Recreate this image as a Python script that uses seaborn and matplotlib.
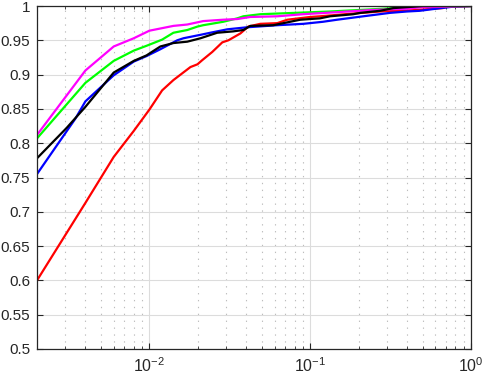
import numpy as np
import pandas as pd
import matplotlib
matplotlib.use("Agg")
import matplotlib.pyplot as plt
import seaborn as sns
from matplotlib.ticker import LogLocator, FixedLocator, NullFormatter

red_x = [0.002, 0.004, 0.006, 0.008, 0.010, 0.012, 0.0141, 0.018, 0.0199, 0.0213, 0.0246, 0.0284,
         0.031, 0.0368, 0.0412, 0.0489, 0.0624, 0.072, 0.1, 0.115, 0.185, 0.272, 0.36, 0.44, 0.67, 0.71, 1.0]
red_y = [0.600, 0.713, 0.780, 0.818, 0.849, 0.877, 0.892, 0.911, 0.915, 0.921, 0.933, 0.947,
         0.950, 0.960, 0.970, 0.974, 0.975, 0.980, 0.984, 0.985, 0.989, 0.992, 0.993, 0.994, 0.997, 0.999, 1.0]

blue_x = [0.002, 0.00347, 0.004, 0.006, 0.008, 0.0096, 0.0117, 0.0149, 0.0163, 0.0208, 0.0239, 0.0305,
          0.0406, 0.0624, 0.0906, 0.12, 0.147, 0.214, 0.314, 0.40, 0.48, 0.58, 0.71, 0.77, 1.0]
blue_y = [0.755, 0.836, 0.861, 0.899, 0.919, 0.927, 0.937, 0.950, 0.953, 0.958, 0.961, 0.966,
          0.969, 0.972, 0.974, 0.977, 0.980, 0.985, 0.990, 0.992, 0.993, 0.9955, 0.998, 0.999, 1.0]

green_x = [0.002, 0.004, 0.006, 0.008, 0.0096, 0.012, 0.0141, 0.0172, 0.0199, 0.0216, 0.0288, 0.0352,
           0.0384, 0.0489, 0.0624, 0.133, 0.236, 0.40, 0.53, 1.0]
green_y = [0.807, 0.888, 0.920, 0.935, 0.942, 0.951, 0.961, 0.965, 0.970, 0.972, 0.977, 0.982,
           0.985, 0.988, 0.989, 0.992, 0.995, 0.998, 0.999, 1.0]

magenta_x = [0.002, 0.004, 0.006, 0.008, 0.010, 0.0141, 0.0172, 0.018, 0.0216, 0.0288, 0.0352, 0.0424,
             0.0624, 0.09, 0.147, 0.236, 0.30, 0.40, 0.48, 1.0]
magenta_y = [0.812, 0.906, 0.941, 0.953, 0.964, 0.971, 0.973, 0.974, 0.978, 0.980, 0.981, 0.984,
             0.985, 0.988, 0.991, 0.994, 0.995, 0.996, 0.998, 1.0]

black_x = [0.002, 0.00305, 0.004, 0.006, 0.008, 0.0096, 0.0117, 0.0141, 0.0172, 0.0208, 0.0264, 0.0332,
           0.0384, 0.0424, 0.0589, 0.0867, 0.115, 0.133, 0.185, 0.205, 0.272, 0.33, 0.44, 0.5, 1.0]
black_y = [0.778, 0.822, 0.853, 0.903, 0.920, 0.928, 0.941, 0.946, 0.948, 0.953, 0.961, 0.963,
           0.965, 0.971, 0.972, 0.980, 0.982, 0.985, 0.988, 0.990, 0.993, 0.997, 0.999, 1.0, 1.0]

y_ticks = [0.5, 0.55, 0.6, 0.65, 0.7, 0.75, 0.8, 0.85, 0.9, 0.95, 1.0]
y_labels = ["0.5", "0.55", "0.6", "0.65", "0.7", "0.75", "0.8", "0.85", "0.9", "0.95", "1"]

series = [("red", red_x, red_y, "#ff0000"),
          ("blue", blue_x, blue_y, "#0000ff"),
          ("green", green_x, green_y, "#00ff00"),
          ("magenta", magenta_x, magenta_y, "#ff00ff"),
          ("black", black_x, black_y, "#000000")]

sns.set_style("white")
plt.rcParams['font.family'] = ['Liberation Sans', 'DejaVu Sans']
plt.rcParams['mathtext.default'] = 'regular'

fig = plt.figure(figsize=(4.83, 3.76), dpi=100)
ax = fig.add_axes([37/483, 27/376, (471-37)/483, (349-6)/376])

for name, xs, ys, col in series:
    df = pd.DataFrame({"x": xs, "y": ys})
    sns.lineplot(data=df, x="x", y="y", ax=ax, color=col, linewidth=1.6,
                 estimator=None, sort=False, legend=False)

ax.set_xscale("log")
ax.set_xlim(0.002, 1.0)
ax.set_ylim(0.5, 1.0)
ax.set_xlabel("")
ax.set_ylabel("")
ax.set_yticks(y_ticks)
ax.set_yticklabels(y_labels)
ax.xaxis.set_major_locator(FixedLocator([0.01, 0.1, 1.0]))
ax.xaxis.set_minor_locator(LogLocator(base=10, subs=np.arange(2, 10), numticks=20))
ax.xaxis.set_minor_formatter(NullFormatter())

ax.grid(True, which="major", color="#dcdcdc", linewidth=0.8, linestyle="-")
ax.grid(True, which="minor", axis="x", color="#bdbdbd", linewidth=0.8, linestyle=(0, (1.2, 5)))
ax.set_axisbelow(True)

for s in ax.spines.values():
    s.set_visible(True)
    s.set_color("#262626")
    s.set_linewidth(0.9)

ax.tick_params(which="both", direction="in", top=True, right=True, bottom=True, left=True,
               labelsize=11, colors="#262626", labelcolor="#262626")
ax.tick_params(which="major", length=4, width=0.8)
ax.tick_params(which="minor", length=2.5, width=0.6)
ax.tick_params(axis="x", pad=5, labelsize=11.5)
ax.tick_params(axis="y", pad=5)

fig.savefig("out.png", dpi=100, facecolor="white")
